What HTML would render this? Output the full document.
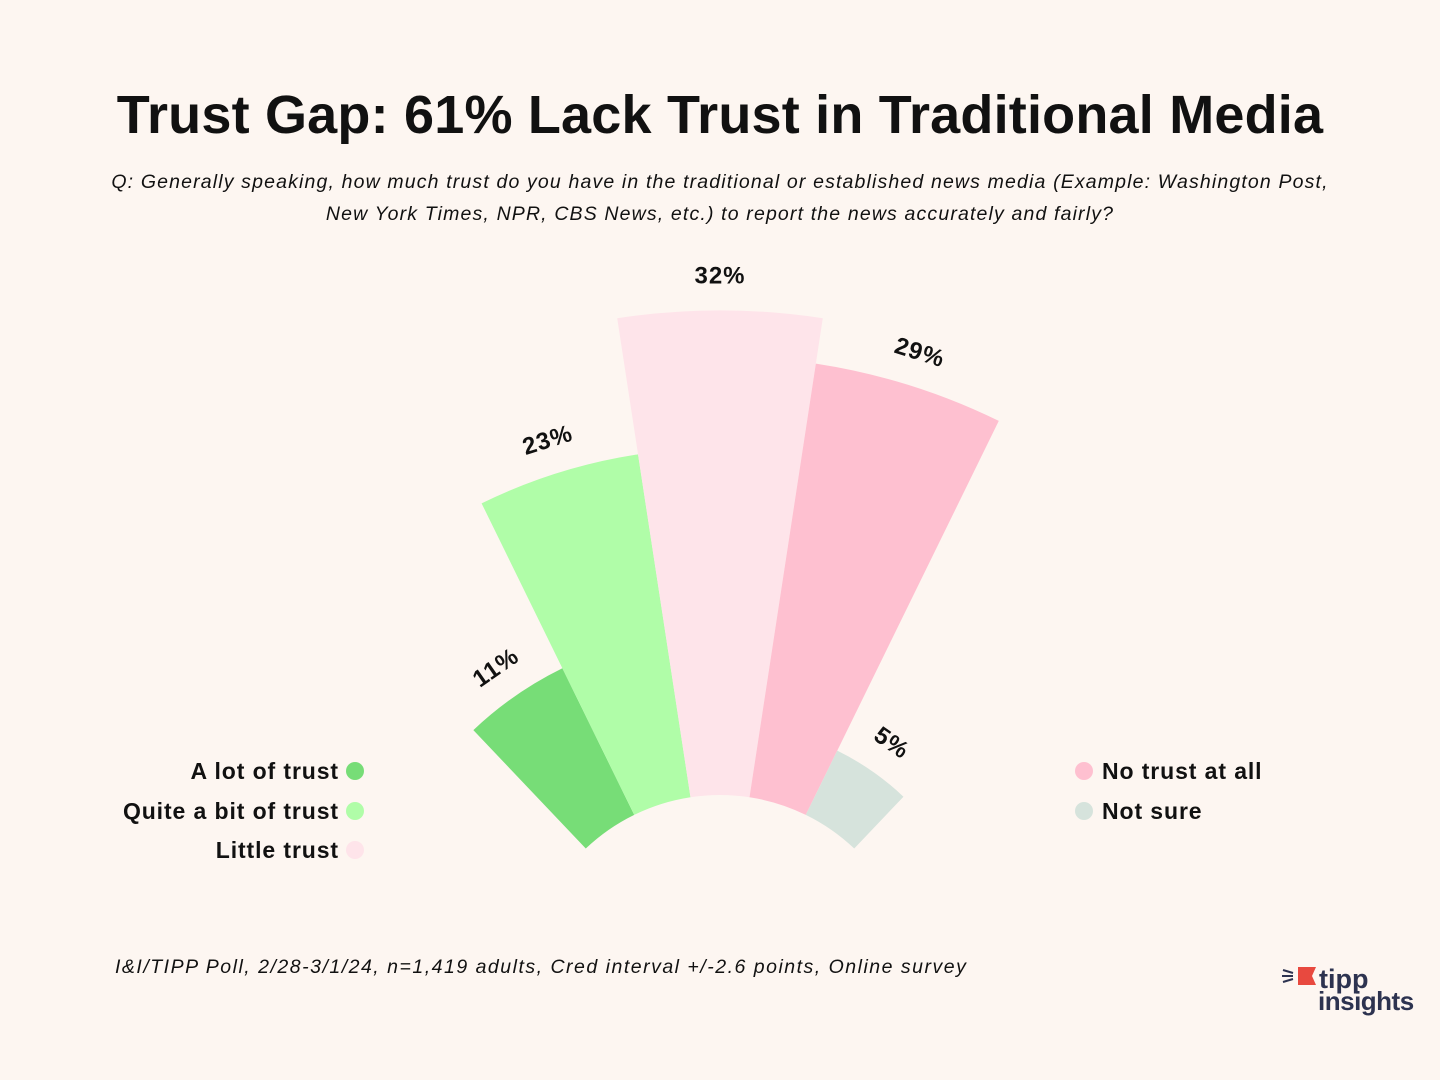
<!DOCTYPE html>
<html><head><meta charset="utf-8"><style>
body{margin:0;background:#fdf6f1;}
svg{display:block;font-family:"Liberation Sans",sans-serif;}
</style></head><body>
<svg id="chart" width="1440" height="1080" viewBox="0 0 1440 1080">
<rect width="1440" height="1080" fill="#fdf6f1"/>
<text x="720" y="133" text-anchor="middle" font-size="54" font-weight="bold" fill="#111" letter-spacing="0.2">Trust Gap: 61% Lack Trust in Traditional Media</text>
<text x="720" y="188" text-anchor="middle" font-size="19.5" font-style="italic" fill="#111" letter-spacing="1.15">Q: Generally speaking, how much trust do you have in the traditional or  established news media (Example: Washington Post,</text>
<text x="720" y="220" text-anchor="middle" font-size="19.5" font-style="italic" fill="#111" letter-spacing="1.15">New York Times, NPR,  CBS News, etc.) to report the news accurately and fairly?</text>
<g id="sectors"></g>
<g id="legend"></g>
<text x="115" y="973" font-size="19.5" font-style="italic" fill="#111" letter-spacing="1.5">I&amp;I/TIPP Poll, 2/28-3/1/24, n=1,419 adults, Cred interval +/-2.6 points, Online survey</text>
<g>
<polygon points="1298,967 1316,967 1312,976 1316,985 1298,985" fill="#e8493f"/>
<line x1="1283" y1="970" x2="1293" y2="973" stroke="#2d3350" stroke-width="2"/>
<line x1="1282" y1="976" x2="1293" y2="976" stroke="#2d3350" stroke-width="2"/>
<line x1="1283" y1="982" x2="1293" y2="979" stroke="#2d3350" stroke-width="2"/>
<text x="1319" y="988" font-size="27" font-weight="bold" fill="#2d3350">tipp</text>
<text x="1318" y="1010" font-size="26" font-weight="bold" fill="#2d3350" letter-spacing="-0.5">insights</text>
</g>
</svg>
<script>
const categories=["A lot of trust","Quite a bit of trust","Little trust","No trust at all","Not sure"];
const values=[11,23,32,29,5];
const labels=["11%","23%","32%","29%","5%"];
const colors=["#77dd77","#b0fda8","#fee4ea","#fec0d0","#d6e3dc"];
const cx=720,cy=990,r0=195,a0=-43.5,a1=43.5;
function rScale(v){return 190+v*15.3;}
function ang(i){return a0+(a1-a0)*i/values.length;}
function pt(r,deg){const t=deg*Math.PI/180;return [cx+r*Math.sin(t),cy-r*Math.cos(t)];}
const ns="http://www.w3.org/2000/svg";
const g=document.getElementById('sectors');
values.forEach((v,i)=>{
  const s=ang(i),e=ang(i+1),r=rScale(v);
  const p1=pt(r0,s),p2=pt(r,s),p3=pt(r,e),p4=pt(r0,e);
  const p=document.createElementNS(ns,'path');
  p.setAttribute('d',`M${p1}L${p2}A${r},${r} 0 0 1 ${p3}L${p4}A${r0},${r0} 0 0 0 ${p1}Z`);
  p.setAttribute('fill',colors[i]);
  
  
  g.appendChild(p);
  const m=(s+e)/2,lp=pt(r+33,m);
  const t=document.createElementNS(ns,'text');
  t.setAttribute('x',lp[0]);t.setAttribute('y',lp[1]);
  t.setAttribute('text-anchor','middle');t.setAttribute('dominant-baseline','middle');
  t.setAttribute('font-size','24');t.setAttribute('font-weight','bold');t.setAttribute('fill','#111');t.setAttribute('letter-spacing','1');
  t.setAttribute('transform',`rotate(${m} ${lp[0]} ${lp[1]})`);
  t.textContent=labels[i];
  
  
  g.appendChild(t);
});
const lg=document.getElementById('legend');
const pos=[[355,771,'L'],[355,811,'L'],[355,850,'L'],[1084,771,'R'],[1084,811,'R']];
categories.forEach((c,i)=>{
  const [x,y,side]=pos[i];
  const ci=document.createElementNS(ns,'circle');
  ci.setAttribute('cx',x);ci.setAttribute('cy',y);ci.setAttribute('r',9);ci.setAttribute('fill',colors[i]);
  
  
  lg.appendChild(ci);
  const t=document.createElementNS(ns,'text');
  t.setAttribute('x',side==='L'?x-16:x+18);t.setAttribute('y',y+8);
  t.setAttribute('text-anchor',side==='L'?'end':'start');
  t.setAttribute('font-size','23');t.setAttribute('font-weight','bold');t.setAttribute('fill','#111');t.setAttribute('letter-spacing','0.9');
  t.textContent=c;
  
  
  lg.appendChild(t);
});
</script>
</body></html>
